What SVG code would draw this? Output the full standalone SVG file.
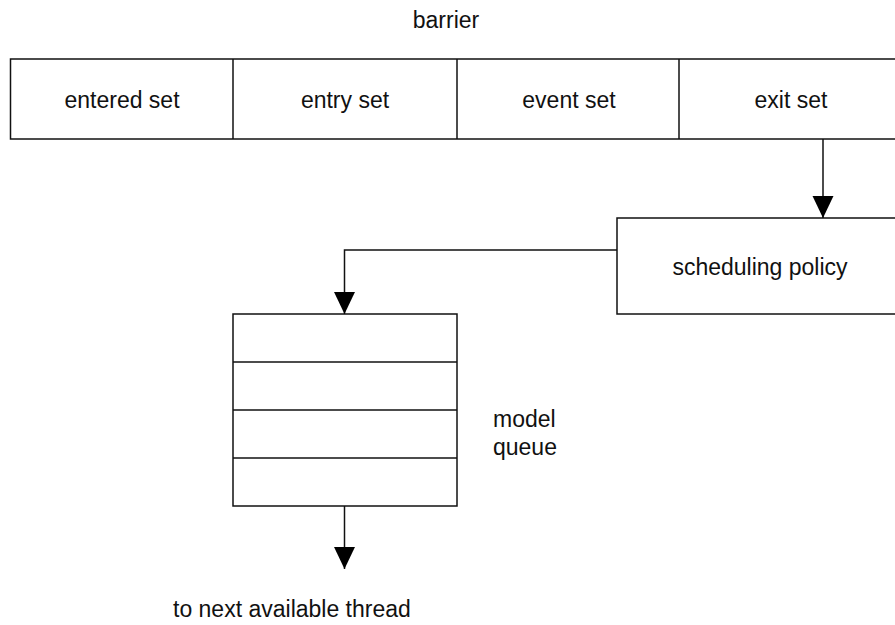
<svg xmlns="http://www.w3.org/2000/svg" width="895" height="625" viewBox="0 0 895 625">
<style>
.box{fill:#fff;stroke:#111;stroke-width:1.5}
.ln{fill:none;stroke:#111;stroke-width:1.5}
.t{font-family:"Liberation Sans",Arial,sans-serif;font-size:23px;fill:#111}
.c{text-anchor:middle}
</style>
<defs>
<marker id="arr" markerUnits="userSpaceOnUse" markerWidth="22" markerHeight="22" viewBox="0 0 21 20" refX="21" refY="10" orient="auto">
<path d="M0,0 L21,10 L0,20 Z" fill="#000"/>
</marker>
</defs>
<rect width="895" height="625" fill="#fff"/>
<text id="barrier" class="t c" x="446" y="28">barrier</text>
<g id="row">
<rect class="box" x="10.5" y="59" width="900" height="80"/>
<line class="ln" x1="233" y1="59" x2="233" y2="139"/>
<line class="ln" x1="457" y1="59" x2="457" y2="139"/>
<line class="ln" x1="679" y1="59" x2="679" y2="139"/>
</g>
<g id="entered"><text class="t c" x="122" y="108">entered set</text></g>
<g id="entry"><text class="t c" x="345" y="108">entry set</text></g>
<g id="event"><text class="t c" x="569" y="108">event set</text></g>
<g id="exit"><text class="t c" x="791" y="108">exit set</text></g>
<g id="policy">
<rect class="box" x="617" y="218" width="290" height="96"/>
<text class="t c" x="760" y="275">scheduling policy</text>
</g>
<g id="queue">
<rect class="box" x="233" y="314" width="224" height="192"/>
<line class="ln" x1="233" y1="362" x2="457" y2="362"/>
<line class="ln" x1="233" y1="410" x2="457" y2="410"/>
<line class="ln" x1="233" y1="458" x2="457" y2="458"/>
</g>
<g id="queue-label">
<text class="t" x="493" y="427">model</text>
<text class="t" x="493" y="455">queue</text>
</g>
<g id="thread-label"><text class="t" x="173" y="617">to next available thread</text></g>
<g id="connectors">
<path class="ln" d="M823,139 V218" marker-end="url(#arr)"/>
<path class="ln" d="M617,250 H344.5 V314" marker-end="url(#arr)"/>
<path class="ln" d="M344.5,506 V569" marker-end="url(#arr)"/>
</g>
</svg>
